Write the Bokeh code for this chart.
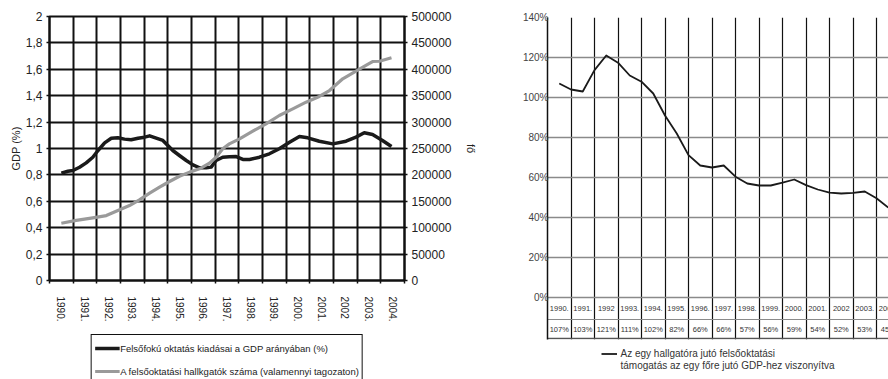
from bokeh.plotting import figure
from bokeh.layouts import row, column
from bokeh.models import (Range1d, LinearAxis, FixedTicker, CustomJSTickFormatter,
                          NumeralTickFormatter, Legend, LegendItem)
from bokeh.core.properties import value
from bokeh.embed import file_html
from bokeh.resources import INLINE

FONT = "Liberation Sans"

# ---- left chart: spending as share of GDP and number of students ----
years = list(range(1990, 2005))
year_labels = ["1990.", "1991.", "1992.", "1993.", "1994.", "1995.", "1996.", "1997.",
               "1998.", "1999.", "2000.", "2001.", "2002", "2003.", "2004."]

gdp_t = [1990.00, 1990.28, 1990.49, 1990.77, 1991.05, 1991.33, 1991.55, 1991.83,
         1992.11, 1992.39, 1992.67, 1992.95, 1993.24, 1993.52, 1993.73, 1994.01,
         1994.29, 1994.50, 1994.71, 1994.99, 1995.28, 1995.56, 1995.84, 1996.12,
         1996.33, 1996.54, 1996.82, 1997.10, 1997.39, 1997.67, 1997.95, 1998.37,
         1998.79, 1999.21, 1999.64, 2000.06, 2000.41, 2000.90, 2001.47, 2002.03,
         2002.45, 2002.80, 2003.15, 2003.57, 2003.95]
gdp_share = [0.813, 0.828, 0.833, 0.858, 0.891, 0.934, 0.985, 1.043,
             1.078, 1.081, 1.071, 1.066, 1.078, 1.086, 1.096, 1.078,
             1.061, 1.023, 0.985, 0.947, 0.909, 0.876, 0.854, 0.854,
             0.859, 0.909, 0.934, 0.937, 0.939, 0.917, 0.917, 0.934,
             0.960, 0.998, 1.048, 1.091, 1.081, 1.055, 1.035, 1.055,
             1.086, 1.119, 1.106, 1.061, 1.015]

students_t = [1990.00, 1990.63, 1991.33, 1991.90, 1992.39, 1992.88, 1993.30, 1993.73,
              1994.15, 1994.57, 1994.99, 1995.42, 1995.84, 1996.26, 1996.54, 1996.82,
              1997.10, 1997.53, 1998.09, 1998.65, 1999.21, 1999.78, 2000.34, 2000.90,
              2001.33, 2001.89, 2002.45, 2002.87, 2003.15, 2003.44, 2003.95]
students = [108500, 113750, 118750, 123000, 132500, 142000, 152750, 165500,
            176750, 187500, 197500, 205250, 211500, 222250, 233500, 249500,
            258750, 268250, 282750, 296750, 312500, 325000, 337750, 348500,
            359750, 382000, 396500, 407250, 414750, 415250, 421750]

gdp_ticks = [0, 0.2, 0.4, 0.6, 0.8, 1.0, 1.2, 1.4, 1.6, 1.8, 2.0]
student_ticks = list(range(0, 500001, 50000))

# ---- right chart: support per student relative to GDP per capita ----
ratio_pct = [107, 103, 121, 111, 102, 82, 66, 66, 57, 56, 59, 54, 52, 53, 45]
ratio_mid_t = [1990.5, 1991.5, 1992.5, 1993.5, 1994.5, 1995.5, 1996.5,
               1997.5, 1998.5, 1999.5, 2000.5, 2001.5, 2002.5, 2003.5]
ratio_mid = [104, 113.7, 117.4, 107.9, 91, 71.2, 65, 60.4, 56, 57.4, 56.2, 52.4, 52.3, 49.6]
table_years = ["1990.", "1991.", "1992", "1993.", "1994.", "1995.", "1996.", "1997.",
               "1998.", "1999.", "2000.", "2001.", "2002", "2003.", "2004."]
pct_ticks = [0, 20, 40, 60, 80, 100, 120, 140]

bounds = [y - 0.5 for y in years] + [years[-1] + 0.5]

GDP_COLOR = "#1a1a1a"
STUDENT_COLOR = "#9a9a9a"

# =================== left figure ===================
p1 = figure(frame_width=355, frame_height=264,
            min_border_left=49, min_border_right=96, min_border_top=16, min_border_bottom=50,
            x_range=Range1d(1989.5, 2004.5), y_range=Range1d(0, 2),
            output_backend="svg", toolbar_location=None)
p1.extra_y_ranges = {"students": Range1d(0, 500000)}
p1.background_fill_color = "white"
p1.border_fill_color = "white"
p1.outline_line_color = "#111111"
p1.outline_line_width = 2

p1.xgrid.ticker = FixedTicker(ticks=bounds)
p1.ygrid.ticker = FixedTicker(ticks=gdp_ticks)
for g in (p1.xgrid, p1.ygrid):
    g.grid_line_color = "#111111"
    g.grid_line_width = 2
    g.grid_line_alpha = 1

xa = p1.xaxis[0]
xa.ticker = FixedTicker(ticks=years, minor_ticks=bounds)
xa.major_label_overrides = {y: lab for y, lab in zip(years, year_labels)}
xa.major_label_orientation = "vertical"
xa.major_tick_out = 0
xa.major_tick_in = 0
xa.minor_tick_out = 3
xa.minor_tick_in = 0
xa.minor_tick_line_color = "#111111"
xa.minor_tick_line_width = 1.5
xa.major_label_standoff = 13
xa.major_label_text_font = FONT
xa.major_label_text_font_size = "10px"
xa.major_label_text_color = "#222222"
xa.axis_line_color = "#111111"
xa.axis_line_width = 2

ya = p1.yaxis[0]
ya.ticker = FixedTicker(ticks=gdp_ticks)
ya.formatter = CustomJSTickFormatter(
    code="return (Math.round(tick * 10) / 10).toString().replace('.', ',');")
ya.axis_label = "GDP (%)"
ya.axis_label_standoff = 1
ya.axis_label_text_font = FONT
ya.axis_label_text_font_size = "11px"
ya.axis_label_text_font_style = "normal"
ya.axis_label_text_color = "#222222"

ra = LinearAxis(y_range_name="students", ticker=FixedTicker(ticks=student_ticks),
                formatter=NumeralTickFormatter(format="0"), axis_label="fő")
ra.axis_label_orientation = "vertical"
ra.axis_label_standoff = 10
ra.axis_label_text_font = FONT
ra.axis_label_text_font_size = "11px"
ra.axis_label_text_font_style = "normal"
ra.axis_label_text_color = "#222222"
p1.add_layout(ra, "right")

for ax in (ya, ra):
    ax.major_tick_out = 3
    ax.major_tick_in = 0
    ax.minor_tick_out = 0
    ax.minor_tick_in = 0
    ax.major_tick_line_color = "#111111"
    ax.major_tick_line_width = 1.5
    ax.major_label_standoff = 4
    ax.major_label_text_font = FONT
    ax.major_label_text_font_size = "12px"
    ax.major_label_text_color = "#222222"
    ax.axis_line_color = "#111111"
    ax.axis_line_width = 2

p1.line(gdp_t, gdp_share, line_color=GDP_COLOR, line_width=3.5, line_join="round")
p1.line(students_t, students, y_range_name="students",
        line_color=STUDENT_COLOR, line_width=3.2, line_join="round")

# legend strip under the left chart; its ranges keep the series themselves out of view
pl = figure(frame_width=355, frame_height=49,
            min_border_left=49, min_border_right=96, min_border_top=0, min_border_bottom=0,
            x_range=Range1d(0, 1), y_range=Range1d(0, 1),
            x_axis_location=None, y_axis_location=None,
            output_backend="svg", toolbar_location=None)
pl.outline_line_color = None
pl.grid.visible = False
pl.background_fill_color = "white"
pl.border_fill_color = "white"
k_gdp = pl.line(gdp_t, gdp_share, line_color=GDP_COLOR, line_width=3.5)
k_st = pl.line(students_t, students, line_color=STUDENT_COLOR, line_width=3.2)
leg1 = Legend(items=[
    LegendItem(label="Felsőfokú oktatás kiadásai a GDP arányában (%)", renderers=[k_gdp]),
    LegendItem(label="A felsőoktatási hallkgatók száma (valamennyi tagozaton)", renderers=[k_st]),
], location="top_center", orientation="vertical")
leg1.padding = 3
leg1.spacing = 3
leg1.margin = 4
leg1.glyph_width = 25
leg1.glyph_height = 20
leg1.label_height = 20
leg1.label_standoff = 1
leg1.label_text_font = FONT
leg1.label_text_font_size = "9.5px"
leg1.label_text_color = "#222222"
leg1.border_line_color = "#111111"
leg1.border_line_alpha = 1
leg1.border_line_width = 1.2
leg1.background_fill_color = "white"
leg1.background_fill_alpha = 1
pl.add_layout(leg1)

# =================== right figure ===================
cell = 23.5
p2 = figure(frame_width=341, frame_height=322,
            min_border_left=47, min_border_right=0, min_border_top=17, min_border_bottom=40,
            x_range=Range1d(1989.5, 1989.5 + 341 / cell), y_range=Range1d(-21, 140),
            x_axis_location=None,
            output_backend="svg", toolbar_location=None)
p2.background_fill_color = "white"
p2.border_fill_color = "white"
p2.outline_line_color = None

p2.ygrid.ticker = FixedTicker(ticks=pct_ticks)
p2.ygrid.grid_line_color = "#8a8a8a"
p2.ygrid.grid_line_width = 1.5
p2.xgrid.ticker = FixedTicker(ticks=bounds)
p2.xgrid.grid_line_color = "#111111"
p2.xgrid.grid_line_width = 1.2

y2 = p2.yaxis[0]
y2.ticker = FixedTicker(ticks=pct_ticks)
y2.formatter = CustomJSTickFormatter(code="return tick + '%';")
y2.major_tick_out = 0
y2.major_tick_in = 0
y2.minor_tick_out = 0
y2.minor_tick_in = 0
y2.major_label_standoff = -1
y2.major_label_text_font = FONT
y2.major_label_text_font_size = "10px"
y2.major_label_text_color = "#444444"
y2.axis_line_color = "#111111"
y2.axis_line_width = 1.5

# table rows below the zero line
row_year_y = -5.6
row_sep_y = -10.75
row_val_y = -15.75
p2.hspan(y=[row_sep_y], line_color="#8a8a8a", line_width=1.2)
p2.hspan(y=[-20.6], line_color="#555555", line_width=1.5)
p2.text(x=years, y=[row_year_y] * len(years), text=table_years,
        text_font=value(FONT), text_font_size="7.5px", text_color="#333333",
        text_align="center", text_baseline="middle")
p2.text(x=years, y=[row_val_y] * len(years), text=[f"{v}%" for v in ratio_pct],
        text_font=value(FONT), text_font_size="7.5px", text_color="#333333",
        text_align="center", text_baseline="middle")

pts = sorted(list(zip(years, ratio_pct)) + list(zip(ratio_mid_t, ratio_mid)))
r_ratio = p2.line([t for t, _ in pts], [v for _, v in pts],
                  line_color="#1a1a1a", line_width=1.8, line_join="round")
r_blank = p2.line(x=[], y=[], line_alpha=0)

leg2 = Legend(items=[
    LegendItem(label="Az egy hallgatóra jutó felsőoktatási", renderers=[r_ratio]),
    LegendItem(label="támogatás az egy főre jutó GDP-hez viszonyítva", renderers=[r_blank]),
], location="top_center", orientation="vertical")
leg2.padding = 0
leg2.spacing = 1
leg2.margin = 9
leg2.glyph_width = 16
leg2.glyph_height = 11
leg2.label_height = 11
leg2.label_standoff = 4
leg2.label_text_font = FONT
leg2.label_text_font_size = "10px"
leg2.label_text_color = "#333333"
leg2.border_line_color = None
leg2.background_fill_alpha = 0
p2.add_layout(leg2, "below")

layout = row(column(p1, pl, spacing=0), p2, spacing=0)
open("out.html", "w").write(file_html(layout, INLINE))
